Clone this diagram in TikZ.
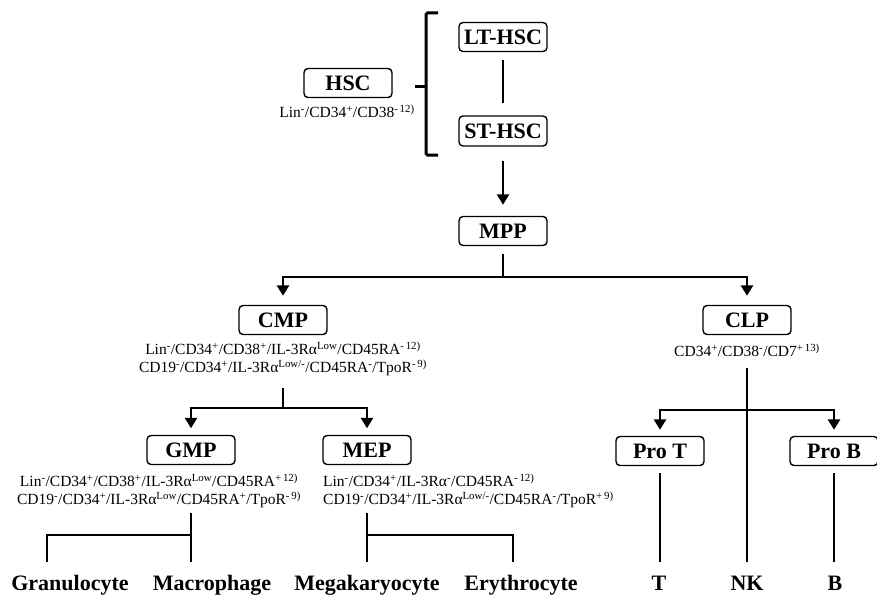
\documentclass[tikz,border=0pt]{standalone}
\usepackage{fontspec}
\setmainfont{Liberation Serif}
\usetikzlibrary{arrows.meta}
\newcommand{\spp}[1]{\textsuperscript{#1}}
\begin{document}
\begin{tikzpicture}[x=1pt,y=-1pt,
  cell/.style={draw, rounded corners=4pt, line width=1.4pt, minimum width=88pt,
    minimum height=29pt, inner sep=0pt, font=\fontsize{22}{24}\selectfont\bfseries},
  subtxt/.style={inner sep=0pt, align=center, font=\fontsize{15.5}{18}\selectfont},
  con/.style={line width=2.9pt},
  arr/.style={con, -{Triangle[width=12pt,length=10.5pt]}},
  leaf/.style={anchor=base, inner sep=0pt, font=\fontsize{22}{24}\selectfont\bfseries}
]
\useasboundingbox (0,0) rectangle (877,594);

% nodes
\node[cell] (lt) at (503,37) {LT-HSC};
\node[cell, minimum height=30pt] (st) at (503,131) {ST-HSC};
\node[cell] (hsc) at (348,83) {HSC};
\node[subtxt] (hsct) at (347,111) {Lin\spp{-}/CD34\spp{+}/CD38\spp{-\,12)}};
\node[cell] (mpp) at (503,231) {MPP};
\node[cell] (cmp) at (283,320) {CMP};
\node[subtxt] (cmpt) at (283,359) {Lin\spp{-}/CD34\spp{+}/CD38\spp{+}/IL-3Rα\spp{Low}/CD45RA\spp{-\,12)}\\
  CD19\spp{-}/CD34\spp{+}/IL-3Rα\spp{Low/-}/CD45RA\spp{-}/TpoR\spp{-\,9)}};
\node[cell] (clp) at (747,320) {CLP};
\node[subtxt] (clpt) at (747,350) {CD34\spp{+}/CD38\spp{-}/CD7\spp{+\,13)}};
\node[cell] (gmp) at (191,450) {GMP};
\node[cell] (mep) at (367,450) {MEP};
\node[subtxt] (gmpt) at (159,491) {Lin\spp{-}/CD34\spp{+}/CD38\spp{+}/IL-3Rα\spp{Low}/CD45RA\spp{+\,12)}\\
  CD19\spp{-}/CD34\spp{+}/IL-3Rα\spp{Low}/CD45RA\spp{+}/TpoR\spp{-\,9)}};
\node[subtxt, align=left, anchor=west] (mept) at (323,491) {Lin\spp{-}/CD34\spp{+}/IL-3Rα\spp{-}/CD45RA\spp{-\,12)}\\
  CD19\spp{-}/CD34\spp{+}/IL-3Rα\spp{Low/-}/CD45RA\spp{-}/TpoR\spp{+\,9)}};
\node[cell] (prot) at (660,451) {Pro T};
\node[cell] (prob) at (834,451) {Pro B};

\node[leaf] (gran) at (70,590) {Granulocyte};
\node[leaf] (macro) at (212,590) {Macrophage};
\node[leaf] (mega) at (367,590) {Megakaryocyte};
\node[leaf] (ery) at (521,590) {Erythrocyte};
\node[leaf] (tc) at (659,590) {T};
\node[leaf] (nk) at (747,590) {NK};
\node[leaf] (bc) at (835,590) {B};

% brace
\coordinate (b1) at (438,13);
\coordinate (b2) at (426,13);
\coordinate (b3) at (426,155);
\coordinate (b4) at (438,155);
\coordinate (bm) at (426,86);
\coordinate (bt) at (415,86);
\draw[con, line width=3pt, rounded corners=1.5pt] (b1) -- (b2) -- (b3) -- (b4);
\draw[con, line width=3pt] (bm) -- (bt);

% connectors
\draw[con, shorten <=8pt, shorten >=12pt] (lt.south) -- (st.north);
\draw[arr, shorten <=14pt, shorten >=11pt] (st.south) -- (mpp.north);

\coordinate (j1) at (503,277);
\draw[con, shorten <=7.5pt] (mpp.south) -- (j1);
\draw[arr, shorten >=9pt] (j1) -| (cmp.north);
\draw[arr, shorten >=9pt] (j1) -| (clp.north);

\coordinate (c2) at (283,388);
\coordinate (j2) at (283,408);
\draw[con] (c2) -- (j2);
\draw[arr, shorten >=6.5pt] (j2) -| (gmp.north);
\draw[arr, shorten >=6.5pt] (j2) -| (mep.north);

\coordinate (c3) at (747,368);
\coordinate (j3) at (747,410);
\coordinate (e3) at (747,562);
\draw[con] (c3) -- (e3);
\draw[arr, shorten >=6pt] (j3) -| (prot.north);
\draw[arr, shorten >=6pt] (j3) -| (prob.north);
\draw[con, shorten <=7pt] (prot.south) -- (prot.south |- e3);
\draw[con, shorten <=7pt] (prob.south) -- (prob.south |- e3);

\coordinate (g1) at (191,513);
\coordinate (g2) at (191,562);
\coordinate (gj) at (191,535);
\coordinate (gl) at (47,562);
\draw[con] (g1) -- (g2);
\draw[con] (gj) -| (gl);

\coordinate (m1) at (367,513);
\coordinate (m2) at (367,562);
\coordinate (mj) at (367,535);
\coordinate (mr) at (513,562);
\draw[con] (m1) -- (m2);
\draw[con] (mj) -| (mr);
\end{tikzpicture}
\end{document}
